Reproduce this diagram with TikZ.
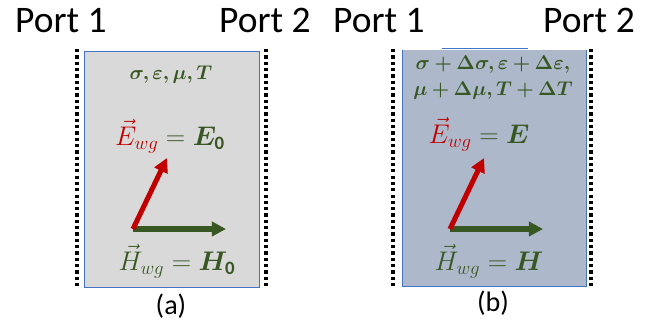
\RequirePackage{fix-cm}
\documentclass[tikz,border=0pt]{standalone}
\usepackage{fontspec}
\setmainfont{Carlito}
\usepackage{amsmath,bm}
\usetikzlibrary{arrows.meta,positioning}

\definecolor{wggreen}{HTML}{385723}
\definecolor{wgred}{HTML}{C00000}
\definecolor{wgblue}{HTML}{4472C4}
\definecolor{boxgray}{HTML}{D9D9D9}
\definecolor{boxslate}{HTML}{ADB9CA}

\tikzset{
  portlbl/.style={font=\fontsize{32}{36}\selectfont, inner sep=0pt, anchor=base west},
  caplbl/.style={font=\fontsize{24}{28}\selectfont, inner sep=0pt},
  paramlbl/.style={font=\fontsize{17}{20}\selectfont, text=wggreen, inner sep=0pt},
  fieldlbl/.style={font=\fontsize{23}{27}\selectfont, text=wggreen, inner sep=0pt},
  portline/.style={line width=3.2pt, dash pattern=on 2.8pt off 2.6pt},
  wgedge/.style={draw=wgblue, line width=0.8pt},
  efield/.style={wgred, line width=4.3pt, -{Triangle[length=12pt,width=12pt]}},
  hfield/.style={wggreen, line width=4.3pt, -{Triangle[length=12pt,width=12pt]}},
}

\begin{document}
\begin{tikzpicture}[x=0.03cm, y=-0.03cm]
  \useasboundingbox (0,0) rectangle (656,332);

  % ---------- (a) unperturbed waveguide ----------
  % filled section
  \fill[boxgray] (84,51) rectangle (259,287);
  \draw[wgedge] (84,51) rectangle (259,287);
  % port planes
  \draw[portline] (77,49) -- (77,287);
  \draw[portline] (266,49) -- (266,287);
  % port labels
  \node[portlbl] (portAl) at (15,32) {Port 1};
  \node[portlbl] (portAr) at (219,32) {Port 2};
  % material parameters
  \node[paramlbl] (parA) at (171,75) {$\boldsymbol{\sigma,\varepsilon,\mu,T}$};
  % field labels
  \node[fieldlbl] (eA) at (170,136) {$\color{wgred}\vec{E}_{wg}\color{wggreen} = \boldsymbol{E}_{\mathbf{0}}$};
  \node[fieldlbl] (hA) at (177,261) {$\vec{H}_{wg} = \boldsymbol{H}_{\mathbf{0}}$};
  % field vectors
  \coordinate (oA) at (133,229);
  \coordinate (etipA) at (167,158);
  \coordinate (htipA) at (226,229);
  \draw[hfield] (oA) -- (htipA);
  \draw[efield] (oA) -- (etipA);
  % caption
  \node[caplbl] (capA) at (171,306) {(a)};

  % ---------- (b) perturbed waveguide ----------
  % filled section
  \fill[boxslate] (402,50) rectangle (586,286);
  \draw[wgedge] (402,50) -- (402,286) -- (586,286) -- (586,50);
  \draw[wgedge] (442,48) -- (528,48);
  % port planes
  \draw[portline] (393,49) -- (393,287);
  \draw[portline] (591,49) -- (591,287);
  % port labels
  \node[portlbl] (portBl) at (333,32) {Port 1};
  \node[portlbl] (portBr) at (543,32) {Port 2};
  % perturbed material parameters
  \node[paramlbl] (parB1) at (493,65) {$\boldsymbol{\sigma+\Delta\sigma,\varepsilon+\Delta\varepsilon,}$};
  \node[paramlbl] (parB2) at (493,91) {$\boldsymbol{\mu+\Delta\mu,T+\Delta T}$};
  % field labels
  \node[fieldlbl] (eB) at (479,134) {$\color{wgred}\vec{E}_{wg}\color{wggreen} = \boldsymbol{E}$};
  \node[fieldlbl] (hB) at (489,261) {$\vec{H}_{wg} = \boldsymbol{H}$};
  % field vectors
  \coordinate (oB) at (450,229);
  \coordinate (etipB) at (484,158);
  \coordinate (htipB) at (543,229);
  \draw[hfield] (oB) -- (htipB);
  \draw[efield] (oB) -- (etipB);
  % caption
  \node[caplbl] (capB) at (493,303) {(b)};
\end{tikzpicture}
\end{document}
